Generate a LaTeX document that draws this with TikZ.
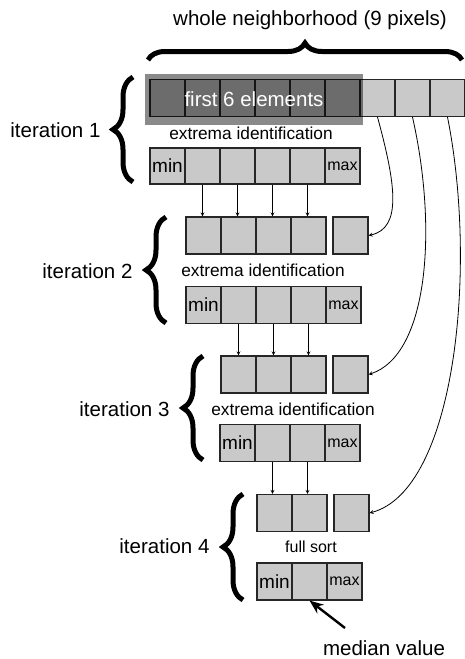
\documentclass[tikz,border=0pt]{standalone}
\usepackage{fontspec}
\setmainfont{Liberation Sans}
\usetikzlibrary{decorations.pathreplacing,arrows.meta}

\definecolor{cellgray}{gray}{0.79}
\newcommand{\bigtxt}{\fontsize{20.5}{24}\selectfont}
\newcommand{\midtxt}{\fontsize{17.3}{20}\selectfont}
\newcommand{\smalltxt}{\fontsize{16}{19}\selectfont}
\newcommand{\mintxt}{\fontsize{19}{22}\selectfont}
\newcommand{\maxtxt}{\fontsize{16}{19}\selectfont}

\tikzset{
  cell/.style={draw=black!85, fill=cellgray, line width=1.1pt, minimum width=35pt, minimum height=37pt, inner sep=0pt},
  bigbrace/.style={decorate, decoration={brace, amplitude=#1}, line width=5pt},
  passarrow/.style={-stealth, line width=0.8pt},
  medarrow/.style={-{Stealth[length=14pt,width=11pt]}, line width=2.4pt}
}

\begin{document}
\begin{tikzpicture}[x=1pt,y=-1pt]
  \useasboundingbox (0,0) rectangle (465,659);

  % whole neighborhood
  \node[font=\bigtxt] (whole) at (310,20) {whole neighborhood (9 pixels)};
  \draw[bigbrace=17] (148,60) -- (462,60);

  % iteration 1
  \foreach \i in {1,...,9}
    \node[cell] (t1-\i) at ({132.5+35*\i},98) {};
  \node[fill=black, fill opacity=.46, text opacity=1, text=white, font=\bigtxt,
        minimum width=218pt, minimum height=51pt] (firstsix) at (254,99.5) {first 6 elements};
  \draw[bigbrace=20] (133,182) -- (133,77);
  \node[font=\bigtxt, anchor=east] (it1) at (104,130) {iteration 1};
  \node[font=\midtxt] (ext1) at (251,133) {extrema identification};
  \node[cell, minimum height=36pt, font=\mintxt] (b1-1) at (167.5,166) {min};
  \foreach \i in {2,...,5}
    \node[cell, minimum height=36pt] (b1-\i) at ({132.5+35*\i},166) {};
  \node[cell, minimum height=36pt, font=\maxtxt] (b1-6) at (342.5,166) {max};

  % iteration 2
  \foreach \i in {1,...,4}
    \node[cell] (t2-\i) at ({168.5+35*\i},235.5) {};
  \node[cell] (s2) at (350.5,235.5) {};
  \draw[bigbrace=20] (166,323) -- (166,217);
  \node[font=\bigtxt, anchor=east] (it2) at (136,271) {iteration 2};
  \node[font=\midtxt] (ext2) at (263,270) {extrema identification};
  \node[cell, font=\mintxt] (b2-1) at (203.5,305) {min};
  \foreach \i in {2,...,4}
    \node[cell] (b2-\i) at ({168.5+35*\i},305) {};
  \node[cell, font=\maxtxt] (b2-5) at (343.5,305) {max};

  % iteration 3
  \foreach \i in {1,...,3}
    \node[cell] (t3-\i) at ({203.5+35*\i},374.5) {};
  \node[cell] (s3) at (350.5,374.5) {};
  \draw[bigbrace=20] (203,460) -- (203,356);
  \node[font=\bigtxt, anchor=east] (it3) at (173,409) {iteration 3};
  \node[font=\midtxt] (ext3) at (293,409) {extrema identification};
  \node[cell, font=\mintxt] (b3-1) at (237.5,443) {min};
  \foreach \i in {2,3}
    \node[cell] (b3-\i) at ({202.5+35*\i},443) {};
  \node[cell, font=\maxtxt] (b3-4) at (342.5,443) {max};

  % iteration 4
  \foreach \i in {1,2}
    \node[cell] (t4-\i) at ({239.5+35*\i},513) {};
  \node[cell] (s4) at (351.5,513) {};
  \draw[bigbrace=20] (243,600) -- (243,494);
  \node[font=\bigtxt, anchor=east] (it4) at (213,546) {iteration 4};
  \node[font=\smalltxt] (sort) at (311,547) {full sort};
  \node[cell, font=\mintxt] (b4-1) at (274.5,581.5) {min};
  \node[cell] (b4-2) at (309.5,581.5) {};
  \node[cell, font=\maxtxt] (b4-3) at (344.5,581.5) {max};

  % passing the middle elements down
  \foreach \i/\j in {2/1,3/2,4/3,5/4}
    \draw[passarrow] (b1-\i.south) -- (b1-\i.south |- t2-\j.north);
  \foreach \i/\j in {2/1,3/2,4/3}
    \draw[passarrow] (b2-\i.south) -- (b2-\i.south |- t3-\j.north);
  \foreach \i/\j in {2/1,3/2}
    \draw[passarrow] (b3-\i.south) -- (b3-\i.south |- t4-\j.north);

  % remaining pixels
  \draw[passarrow] (t1-7.south) .. controls (396,185) and (402,228) .. (s2.east);
  \draw[passarrow] (t1-8.south) .. controls (438,230) and (428,355) .. (s3.east);
  \draw[passarrow] (t1-9.south) .. controls (478,270) and (455,490) .. (s4.east);

  % median
  \node[font=\bigtxt] (median) at (384,648) {median value};
  \coordinate (mtail) at (345,628);
  \draw[medarrow] (mtail) -- (b4-2.south);
\end{tikzpicture}
\end{document}
